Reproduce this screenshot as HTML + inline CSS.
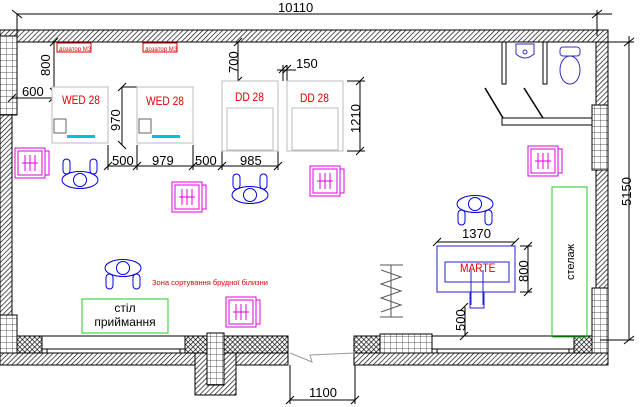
<!DOCTYPE html>
<html><head><meta charset="utf-8"><style>
html,body{margin:0;padding:0;background:#fff}
svg{display:block}
text{font-family:"Liberation Sans",sans-serif}
</style></head><body>
<svg width="640" height="407" viewBox="0 0 640 407" xmlns="http://www.w3.org/2000/svg">
<defs>
<pattern id="h" width="3.5" height="3.5" patternUnits="userSpaceOnUse" patternTransform="rotate(45)"><rect width="4" height="4" fill="#fff"/><line x1="0" y1="0" x2="0" y2="4" stroke="#000" stroke-width="1.3"/></pattern>
<pattern id="x" width="3.5" height="3.5" patternUnits="userSpaceOnUse" patternTransform="rotate(45)"><rect width="4" height="4" fill="#fff"/><path d="M0 0V4M0 0H4" stroke="#000" stroke-width="1.3"/></pattern>
<pattern id="b" width="6" height="6" patternUnits="userSpaceOnUse"><rect width="6" height="6" fill="#fff"/><path d="M0 0H6M0 0V6" stroke="#222" stroke-width="0.7"/></pattern>
<g id="chair"><rect x="0" y="0" width="30" height="30" fill="#fff" stroke="#e000e0"/><rect x="3" y="3" width="24" height="24" fill="none" stroke="#e000e0"/><path d="M7 15H23M10 7V23M15 7V23M20 7V23M30 3H34V27H30" stroke="#e000e0" fill="none"/></g>
<g id="pu" fill="none" stroke="#0000dd"><rect x="-17" y="-17" width="7" height="15" rx="3.5"/><rect x="10" y="-17" width="7" height="15" rx="3.5"/><ellipse cx="0" cy="4" rx="18" ry="8.5"/><circle cx="0" cy="4" r="6.5"/></g>
<g id="pd" fill="none" stroke="#0000dd"><ellipse cx="0" cy="-4" rx="18" ry="8.5"/><circle cx="0" cy="-4" r="6.5"/><rect x="-17" y="2" width="7" height="15" rx="3.5"/><rect x="10" y="2" width="7" height="15" rx="3.5"/></g>
</defs>
<g stroke="#000" stroke-width="1">
<rect x="0" y="30" width="608" height="12" fill="url(#h)"/>
<rect x="0" y="42" width="12" height="273" fill="url(#h)"/>
<rect x="596" y="42" width="12" height="311" fill="url(#h)"/>
<rect x="0" y="36" width="17" height="79" fill="url(#b)"/>
<rect x="592" y="105" width="16" height="65" fill="url(#b)"/>
<rect x="0" y="353" width="288" height="12" fill="url(#h)"/>
<rect x="354" y="353" width="254" height="12" fill="url(#h)"/>
<rect x="195" y="353" width="41" height="42" fill="url(#h)"/>
<rect x="17" y="336" width="25" height="17" fill="url(#x)"/>
<rect x="185" y="336" width="103" height="17" fill="url(#x)"/>
<rect x="354" y="336" width="26" height="17" fill="url(#x)"/>
<rect x="574" y="336" width="18" height="17" fill="url(#x)"/>
<rect x="42" y="336" width="143" height="13" fill="#fff"/>
<rect x="47" y="349" width="133" height="4" fill="#fff"/>
<rect x="432" y="336" width="142" height="13" fill="#fff"/>
<rect x="437" y="349" width="132" height="4" fill="#fff"/>
<rect x="0" y="315" width="17" height="38" fill="url(#b)"/>
<rect x="207" y="333" width="17" height="52" fill="url(#b)"/>
<rect x="380" y="334" width="52" height="19" fill="url(#b)"/>
<rect x="592" y="288" width="16" height="65" fill="url(#b)"/>
</g>
<path d="M290 353L312 362L310 355L355 353" fill="none" stroke="#999"/>
<g stroke="#000" fill="none">
<path d="M17 14H612M17 14V36M597 10V36M12 10L22 18M592 18L602 10"/>
<path d="M608 42H634M629 36V340M600 340H634M624 46L634 38M624 344L634 336"/>
<path d="M290 365V404M355 365V404M290 400H355M286 404L294 396M351 404L359 396"/>
<path d="M12 98H53M8 102L16 94M49 102L57 94M54 42V92M50 46L58 38M50 88L58 96"/>
<path d="M122 87H140M122 87V145M118 91L126 83M118 141L126 149"/>
<path d="M108 145V170M137 145V170M193 145V170M222 151V170M278 151V170M108 166H278M104 170L112 162M133 170L141 162M189 170L197 162M218 170L226 162M274 170L282 162"/>
<path d="M238 42V81M225 81H250M234 46L242 38M234 85L242 77"/>
<path d="M277 70H296M283 65V81M287 65V81M279 73L287 65M283 73L291 65"/>
<path d="M347 81H365M347 151H365M360 81V151M356 85L364 77M356 155L364 147"/>
<path d="M437 242H515M433 246L441 238M511 246L519 238"/>
<path d="M520 246H532M520 292H532M528 246V292M524 250L532 242M524 296L532 288"/>
<path d="M465 307V336M460 311L468 303M460 340L468 332"/>
</g>
<g font-size="13" fill="#000" font-stretch="condensed">
<text x="278" y="12">10110</text>
<text x="22" y="96">600</text>
<text x="50" y="76" transform="rotate(-90 50 76)">800</text>
<text x="120" y="131" transform="rotate(-90 120 131)">970</text>
<text x="112" y="165">500</text>
<text x="152" y="165">979</text>
<text x="195" y="165">500</text>
<text x="240" y="165">985</text>
<text x="238" y="73" transform="rotate(-90 238 73)">700</text>
<text x="296" y="68">150</text>
<text x="360" y="133" transform="rotate(-90 360 133)">1210</text>
<text x="462" y="238">1370</text>
<text x="528" y="282" transform="rotate(-90 528 282)">800</text>
<text x="465" y="331" transform="rotate(-90 465 331)">500</text>
<text x="631" y="206" transform="rotate(-90 631 206)">5150</text>
<text x="309" y="397">1100</text>
</g>
<g stroke="#000" fill="#fff">
<rect x="502" y="42" width="4" height="42"/><rect x="543" y="42" width="4" height="42"/>
<rect x="502" y="118" width="90" height="7"/>
<path d="M485 88L503 118M524 88L543 118" stroke-width="1.5"/>
</g>
<g fill="none" stroke="#3030c0">
<path d="M516 44H534V54Q525 62 516 54Z"/><circle cx="525" cy="52" r="2"/>
<rect x="560" y="47" width="20" height="9" rx="3"/><ellipse cx="570" cy="70" rx="10" ry="14"/>
</g>
<g fill="none" stroke="#e00000">
<rect x="57" y="43" width="34" height="9"/><rect x="143" y="43" width="34" height="9"/>
</g>
<text x="59" y="51" font-size="6" fill="#e00000">дозатор МЗ</text>
<text x="145" y="51" font-size="6" fill="#e00000">дозатор МЗ</text>
<g fill="#fff" stroke="#bbb">
<rect x="52" y="87" width="56" height="56"/><rect x="137" y="87" width="56" height="56"/>
<rect x="222" y="81" width="56" height="70"/><rect x="287" y="81" width="56" height="70"/>
<rect x="227" y="108" width="46" height="42"/><rect x="292" y="108" width="46" height="42"/>
<rect x="54" y="119" width="12" height="14" stroke="#666"/><rect x="139" y="119" width="12" height="14" stroke="#666"/>
</g>
<rect x="67" y="135" width="28" height="3" fill="#00c0e0"/><rect x="152" y="135" width="28" height="3" fill="#00c0e0"/>
<g font-size="12" fill="#e00000">
<text x="62" y="104" transform="translate(62 0) scale(0.85 1) translate(-62 0)">WED 28</text>
<text x="146" y="105" transform="translate(146 0) scale(0.85 1) translate(-146 0)">WED 28</text>
<text x="235" y="101" transform="translate(235 0) scale(0.85 1) translate(-235 0)">DD 28</text>
<text x="300" y="102" transform="translate(300 0) scale(0.85 1) translate(-300 0)">DD 28</text>
</g>
<use href="#chair" x="15" y="148"/>
<use href="#chair" x="172" y="182"/>
<use href="#chair" x="310" y="166"/>
<use href="#chair" x="528" y="146"/>
<use href="#chair" x="226" y="297"/>
<use href="#pu" x="80" y="176"/>
<use href="#pu" x="250" y="191"/>
<use href="#pd" x="123" y="272"/>
<use href="#pd" x="475" y="208"/>
<g fill="none" stroke="#2020d0">
<rect x="437" y="246" width="78" height="46"/><rect x="445" y="262" width="64" height="20"/>
<rect x="470" y="292" width="14" height="16"/><path d="M471 270V305M483 270V305"/>
</g>
<text x="460" y="272" font-size="12" fill="#e00000" transform="translate(460 0) scale(0.85 1) translate(-460 0)">MARTE</text>
<g stroke="#555" fill="none"><path d="M380 265H403M380 317H403M391 265V317M381 270L401 277L381 284L401 291L381 298L401 305L381 312"/></g>
<rect x="82" y="299" width="86" height="34" fill="none" stroke="#2c2"/>
<rect x="552" y="187" width="35" height="150" fill="none" stroke="#2c2"/>
<text x="125" y="312" font-size="12" text-anchor="middle">стіл</text>
<text x="125" y="326" font-size="12" text-anchor="middle">приймання</text>
<text x="574" y="262" font-size="11" transform="rotate(-90 574 262)" text-anchor="middle">стелаж</text>
<text x="152" y="285" font-size="7.5" fill="#e00000">Зона сортування брудної білизни</text>
</svg>
</body></html>
